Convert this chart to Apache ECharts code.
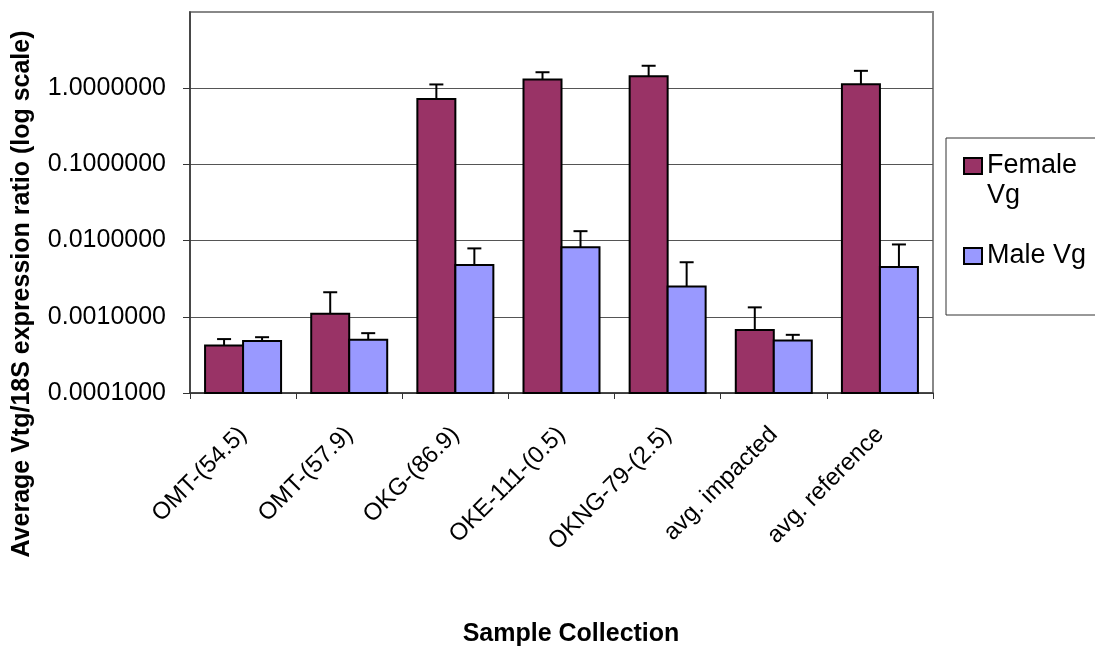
<!DOCTYPE html>
<html>
<head>
<meta charset="utf-8">
<script src="https://cdn.jsdelivr.net/npm/echarts@6/dist/echarts.min.js"></script>
<style>html,body{margin:0;padding:0;background:#fff}#c{width:1095px;height:647px}</style>
</head>
<body>
<div id="c"></div>
<script>
const categories = ['OMT-(54.5)', 'OMT-(57.9)', 'OKG-(86.9)', 'OKE-111-(0.5)', 'OKNG-79-(2.5)', 'avg. impacted', 'avg. reference'];
const femaleVg = [0.00042, 0.0011, 0.72, 1.30, 1.44, 0.00067, 1.13];
const femaleErr = [0.00009, 0.0010, 0.40, 0.32, 0.53, 0.00066, 0.56];
const maleVg = [0.00048, 0.00050, 0.0048, 0.0082, 0.0025, 0.00049, 0.0045];
const maleErr = [0.00006, 0.00011, 0.0031, 0.0051, 0.0027, 0.00009, 0.0044];
const yTicks = [0.0001, 0.001, 0.01, 0.1, 1];
const yMax = 10;

const GAP = 0.284;
const FEMALE_COLOR = '#993366';
const MALE_COLOR = '#9999FF';
const FONT = '"Liberation Sans", Arial, sans-serif';
const chart = echarts.init(document.getElementById('c'));

function barWidth(api, v) {
  const band = api.coord([1, v])[0] - api.coord([0, v])[0];
  return band * (1 - GAP) / 2;
}

function barSeries(name, vals, side, color) {
  return {
    name: name,
    type: 'custom',
    z: 3,
    itemStyle: { color: color, borderColor: '#000', borderWidth: 2 },
    data: vals.map((v, i) => [i, v, side]),
    encode: { x: 0, y: 1 },
    renderItem: function (params, api) {
      const i = api.value(0), v = api.value(1), s = api.value(2);
      const top = api.coord([i, v]);
      const base = api.coord([i, yTicks[0]]);
      const bw = barWidth(api, v);
      const x0 = s < 0 ? top[0] - bw : top[0];
      return {
        type: 'rect',
        shape: { x: x0, y: top[1], width: bw, height: base[1] - top[1] },
        style: { fill: color, stroke: '#000', lineWidth: 2 }
      };
    }
  };
}

function errSeries(vals, errs, side) {
  return {
    type: 'custom',
    z: 5,
    silent: true,
    data: vals.map((v, i) => [i, v, errs[i], side]),
    encode: { x: 0, y: 1 },
    renderItem: function (params, api) {
      const i = api.value(0), v = api.value(1), e = api.value(2), s = api.value(3);
      const p0 = api.coord([i, v]);
      const p1 = api.coord([i, v + e]);
      const bw = barWidth(api, v);
      const x = p0[0] + s * bw / 2;
      const st = { stroke: '#000', lineWidth: 2 };
      return {
        type: 'group',
        children: [
          { type: 'line', shape: { x1: x, y1: p0[1], x2: x, y2: p1[1] }, style: st },
          { type: 'line', shape: { x1: x - 7, y1: p1[1], x2: x + 7, y2: p1[1] }, style: st }
        ]
      };
    }
  };
}

chart.setOption({
  animation: false,
  textStyle: { fontFamily: FONT },
  grid: { left: 190, right: 162, top: 12, bottom: 254, show: true, borderColor: '#888', borderWidth: 2, backgroundColor: '#fff' },
  legend: {
    orient: 'vertical',
    left: 946, top: 138,
    padding: [13, 45, 35, 17],
    itemGap: 21,
    itemWidth: 18, itemHeight: 46,
    borderColor: '#333', borderWidth: 1,
    data: [
      { name: 'Female Vg', icon: 'path://M0,0M0,0h18v16h-18zM18,46',
        itemStyle: { color: FEMALE_COLOR, borderColor: '#000', borderWidth: 2 } },
      { name: 'Male Vg', icon: 'path://M0,0M0,15h18v16h-18zM18,46',
        itemStyle: { color: MALE_COLOR, borderColor: '#000', borderWidth: 2 } }
    ],
    formatter: n => n === 'Female Vg' ? 'Female\nVg' : n,
    textStyle: { fontSize: 27, lineHeight: 30, color: '#000', fontFamily: FONT }
  },
  xAxis: {
    type: 'category',
    data: categories,
    axisLine: { lineStyle: { color: '#333', width: 1.5 } },
    axisTick: { show: true, length: 6, lineStyle: { color: '#333' } },
    axisLabel: { rotate: 45, margin: 38, fontSize: 24, color: '#000', interval: 0 },
    splitLine: { show: false }
  },
  yAxis: {
    type: 'log',
    logBase: 10,
    min: yTicks[0],
    max: yMax,
    axisLine: { show: true, lineStyle: { color: '#333', width: 1.5 } },
    axisTick: { show: true, length: 7, customValues: yTicks, lineStyle: { color: '#333' } },
    axisLabel: {
      margin: 24, fontSize: 25, color: '#000', customValues: yTicks,
      formatter: v => Number(v).toFixed(7)
    },
    splitLine: { show: true, lineStyle: { color: '#555', width: 1 } }
  },
  graphic: [
    { type: 'text', x: 22, y: 294, rotation: Math.PI / 2,
      style: { text: 'Average Vtg/18S expression ratio (log scale)', font: 'bold 25px ' + FONT, fill: '#000', textAlign: 'center', textVerticalAlign: 'middle' } },
    { type: 'text', x: 571, y: 634,
      style: { text: 'Sample Collection', font: 'bold 25px ' + FONT, fill: '#000', textAlign: 'center', textVerticalAlign: 'middle' } }
  ],
  series: [
    barSeries('Female Vg', femaleVg, -1, FEMALE_COLOR),
    barSeries('Male Vg', maleVg, 1, MALE_COLOR),
    errSeries(femaleVg, femaleErr, -1),
    errSeries(maleVg, maleErr, 1)
  ]
});
</script>
</body>
</html>
